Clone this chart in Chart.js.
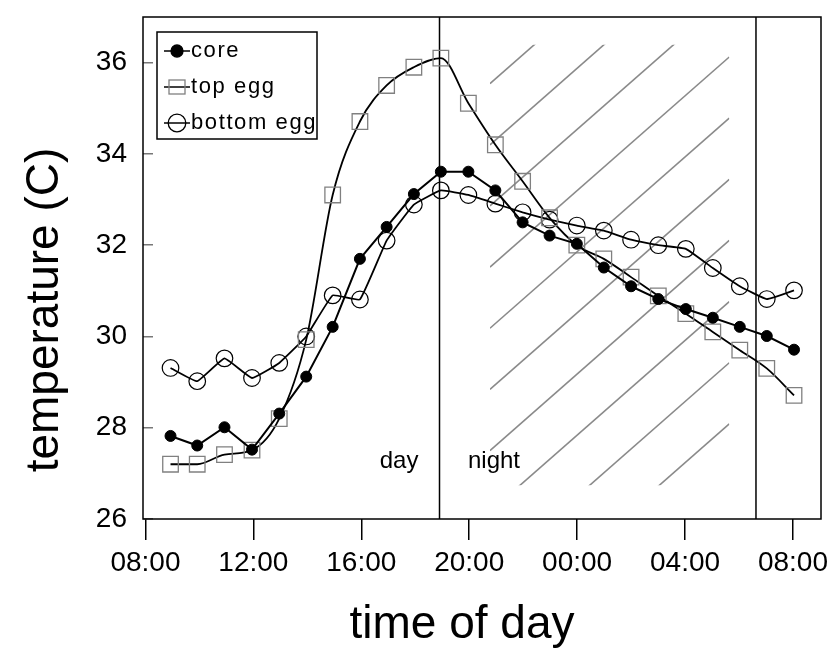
<!DOCTYPE html>
<html lang="en">
<head>
<meta charset="utf-8">
<title>Egg temperatures</title>
<script src="https://cdn.jsdelivr.net/npm/chart.js"></script>
<style>
  body { margin: 0; padding: 0; background: #fff; }
  #wrap { width: 840px; height: 650px; }
</style>
</head>
<body>
<div id="wrap"><canvas id="tempChart" width="840" height="650"></canvas></div>
<script>
// hours since midnight of the first day (24 = midnight, 32 = 08:00 next morning)
const times = [8.93, 9.92, 10.93, 11.95, 12.96, 13.96, 14.94, 15.95, 16.94, 17.95, 18.95, 19.97,
               20.97, 21.98, 22.98, 23.99, 24.99, 26.00, 27.01, 28.03, 29.03, 30.03, 31.03, 32.04];
const core = [27.82, 27.61, 28.01, 27.52, 28.31, 29.12, 30.21, 31.70, 32.40, 33.12, 33.61, 33.61,
              33.20, 32.50, 32.21, 32.03, 31.51, 31.10, 30.82, 30.60, 30.41, 30.21, 30.01, 29.71];
const topEgg = [27.20, 27.20, 27.41, 27.51, 28.20, 29.93, 33.10, 34.71, 35.50, 35.90, 36.10, 35.11,
                34.20, 33.40, 32.60, 32.00, 31.70, 31.30, 30.89, 30.50, 30.10, 29.70, 29.30, 28.71];
const bottomEgg = [29.31, 29.02, 29.52, 29.09, 29.42, 30.00, 30.90, 30.81, 32.10, 32.89, 33.20, 33.10,
                   32.91, 32.72, 32.56, 32.43, 32.32, 32.12, 32.00, 31.92, 31.50, 31.10, 30.82, 31.01];

const xTickHours = [8, 12, 16, 20, 24, 28, 32];
const xTickLabels = ['08:00', '12:00', '16:00', '20:00', '00:00', '04:00', '08:00'];
const yTicks = [26, 28, 30, 32, 34, 36];

// sunset / sunrise markers and their labels
const dayNight = [18.9, 30.63];
const periodLabels = ['day', 'night'];
const periodLabelX = [17.4, 20.92];
const periodLabelY = 27.26;

// hatched night block: bounds, start value of each stripe at the left edge, slope in C per hour
const hatchX = [20.77, 29.64];
const hatchY = [26.74, 36.39];
const hatchStarts = [35.54, 34.20, 32.86, 31.52, 30.18, 28.84, 27.50, 26.16, 24.82, 23.48];
const hatchSlope = 0.519;

const xTitle = 'time of day';
const yTitle = 'temperature (C)';

const toPoints = ys => ys.map((y, i) => ({ x: times[i], y: y }));
const FONT = "'Liberation Sans', Arial, Helvetica, sans-serif";

const decor = {
  id: 'decor',
  beforeDatasetsDraw(chart) {
    const { ctx, chartArea: a, scales: { x, y } } = chart;
    // hatch
    ctx.save();
    ctx.beginPath();
    const hx0 = x.getPixelForValue(hatchX[0]), hx1 = x.getPixelForValue(hatchX[1]);
    const hy0 = y.getPixelForValue(hatchY[1]), hy1 = y.getPixelForValue(hatchY[0]);
    ctx.rect(hx0, hy0, hx1 - hx0, hy1 - hy0);
    ctx.clip();
    ctx.strokeStyle = '#8a8a8a';
    ctx.lineWidth = 1.6;
    hatchStarts.forEach(v => {
      const vEnd = v + hatchSlope * (hatchX[1] - hatchX[0]);
      ctx.beginPath();
      ctx.moveTo(hx0, y.getPixelForValue(v));
      ctx.lineTo(hx1, y.getPixelForValue(vEnd));
      ctx.stroke();
    });
    ctx.restore();

    // day / night boundaries
    ctx.save();
    ctx.strokeStyle = '#000';
    ctx.lineWidth = 1.5;
    dayNight.forEach(t => {
      const px = x.getPixelForValue(t);
      ctx.beginPath();
      ctx.moveTo(px, a.top);
      ctx.lineTo(px, a.bottom);
      ctx.stroke();
    });
    ctx.fillStyle = '#000';
    ctx.font = '24px ' + FONT;
    ctx.textAlign = 'center';
    ctx.textBaseline = 'middle';
    periodLabels.forEach((s, i) => {
      ctx.fillText(s, x.getPixelForValue(periodLabelX[i]), y.getPixelForValue(periodLabelY));
    });
    ctx.restore();
  },
  afterDraw(chart) {
    const { ctx, chartArea: a } = chart;
    ctx.save();
    // frame
    ctx.strokeStyle = '#000';
    ctx.lineWidth = 1.5;
    ctx.strokeRect(a.left, a.top, a.right - a.left, a.bottom - a.top);

    // axis titles (set off-centre like the original)
    ctx.fillStyle = '#000';
    ctx.font = '46px ' + FONT;
    ctx.textAlign = 'center';
    ctx.textBaseline = 'middle';
    ctx.fillText(xTitle, 462, 625);
    ctx.save();
    ctx.translate(45, 310);
    ctx.rotate(-Math.PI / 2);
    ctx.fillText(yTitle, 0, 0);
    ctx.restore();

    // legend
    const lx = a.left + 14, ly = a.top + 15, lw = 160, lh = 107;
    ctx.fillStyle = '#fff';
    ctx.fillRect(lx, ly, lw, lh);
    ctx.strokeRect(lx, ly, lw, lh);
    ctx.font = '22px ' + FONT;
    if ('letterSpacing' in ctx) ctx.letterSpacing = '1.6px';
    ctx.textBaseline = 'middle';
    ctx.textAlign = 'left';
    chart.data.datasets.forEach((ds, i) => {
      const ry = ly + 19 + i * 36;
      const mx = lx + 20;
      ctx.strokeStyle = '#000';
      ctx.lineWidth = 1.5;
      ctx.beginPath();
      ctx.moveTo(lx + 7, ry);
      ctx.lineTo(lx + 33, ry);
      ctx.stroke();
      ctx.lineWidth = 1.3;
      ctx.strokeStyle = ds.pointBorderColor;
      if (ds.pointStyle === 'rect') {
        ctx.strokeRect(mx - 8, ry - 7, 16, 14);
      } else {
        ctx.beginPath();
        ctx.arc(mx, ry, ds.pointRadius + 0.5, 0, Math.PI * 2);
        if (ds.pointBackgroundColor !== 'rgba(0,0,0,0)') {
          ctx.fillStyle = ds.pointBackgroundColor;
          ctx.fill();
        }
        ctx.stroke();
      }
      ctx.fillStyle = '#000';
      ctx.fillText(ds.label, lx + 34, ry);
    });
    ctx.restore();
  }
};

new Chart(document.getElementById('tempChart'), {
  type: 'line',
  data: {
    datasets: [{
      label: 'core',
      data: toPoints(core),
      borderColor: '#000',
      borderWidth: 2,
      pointStyle: 'circle',
      pointRadius: 5.5,
      pointBorderColor: '#000',
      pointBackgroundColor: '#000',
      pointBorderWidth: 1,
      tension: 0
    }, {
      label: 'top egg',
      data: toPoints(topEgg),
      borderColor: '#000',
      borderWidth: 1.8,
      pointStyle: 'rect',
      pointRadius: 11,
      pointBorderColor: '#808080',
      pointBackgroundColor: 'rgba(0,0,0,0)',
      pointBorderWidth: 1.3,
      cubicInterpolationMode: 'monotone'
    }, {
      label: 'bottom egg',
      data: toPoints(bottomEgg),
      borderColor: '#000',
      borderWidth: 1.8,
      pointStyle: 'circle',
      pointRadius: 8.3,
      pointBorderColor: '#000',
      pointBackgroundColor: 'rgba(0,0,0,0)',
      pointBorderWidth: 1.2,
      tension: 0.1
    }]
  },
  options: {
    responsive: false,
    animation: false,
    layout: { padding: { top: 17, right: 19, left: 0, bottom: 0 } },
    plugins: {
      legend: { display: false },
      tooltip: { enabled: false }
    },
    scales: {
      x: {
        type: 'linear',
        min: 7.91,
        max: 33.04,
        afterBuildTicks: s => { s.ticks = xTickHours.map(v => ({ value: v })); },
        afterFit: s => { s.height = 131; s.paddingLeft = 0; s.paddingRight = 0; },
        border: { display: false },
        grid: { drawOnChartArea: false, drawTicks: true, tickLength: 21, color: '#000', lineWidth: 1.5 },
        ticks: {
          autoSkip: false,
          maxRotation: 0,
          padding: 6,
          color: '#000',
          font: { family: FONT, size: 28 },
          callback: (v, i) => xTickLabels[i]
        }
      },
      y: {
        min: 26,
        max: 37,
        afterBuildTicks: s => { s.ticks = yTicks.map(v => ({ value: v })); },
        afterFit: s => { s.width = 143; s.paddingTop = 0; s.paddingBottom = 0; },
        border: { display: false },
        grid: { drawOnChartArea: false, drawTicks: true, tickLength: -10, color: '#777', lineWidth: 1.5 },
        ticks: {
          autoSkip: false,
          padding: 26,
          color: '#000',
          font: { family: FONT, size: 28 }
        }
      }
    }
  },
  plugins: [decor]
});
</script>
</body>
</html>
